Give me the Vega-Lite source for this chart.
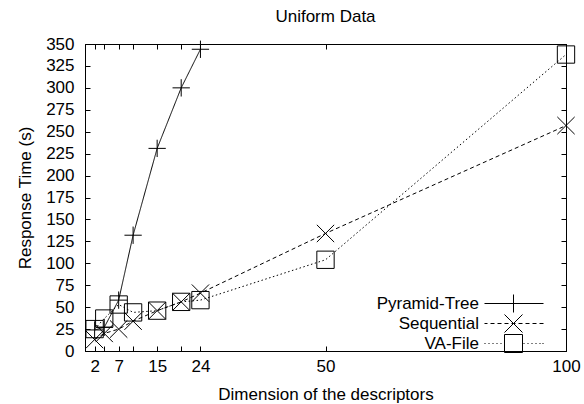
{
  "$schema": "https://vega.github.io/schema/vega-lite/v6.json",
  "width": 481,
  "height": 307,
  "autosize": "none",
  "padding": {"left": 85, "top": 44, "right": 18, "bottom": 53},
  "background": "#ffffff",
  "title": {"text": "Uniform Data", "fontSize": 17, "fontWeight": "normal", "font": "Liberation Sans", "color": "#000000", "offset": 9},
  "config": {
    "view": {"stroke": "#000000", "strokeWidth": 1},
    "font": "Liberation Sans",
    "axis": {"domainColor": "#000000", "tickColor": "#000000", "labelColor": "#000000", "titleColor": "#000000", "labelFont": "Liberation Sans", "titleFont": "Liberation Sans", "labelFontSize": 17, "titleFontSize": 17, "titleFontWeight": "normal", "grid": false, "tickSize": -5, "tickWidth": 1, "domainWidth": 1}
  },
  "data": {"values": [
    {"method": "Pyramid-Tree", "dim": 2, "time": 24},
    {"method": "Pyramid-Tree", "dim": 4, "time": 27},
    {"method": "Pyramid-Tree", "dim": 7, "time": 58},
    {"method": "Pyramid-Tree", "dim": 10, "time": 132},
    {"method": "Pyramid-Tree", "dim": 15, "time": 231},
    {"method": "Pyramid-Tree", "dim": 20, "time": 300},
    {"method": "Pyramid-Tree", "dim": 24, "time": 344},
    {"method": "Sequential", "dim": 2, "time": 13},
    {"method": "Sequential", "dim": 4, "time": 20},
    {"method": "Sequential", "dim": 7, "time": 25},
    {"method": "Sequential", "dim": 10, "time": 34},
    {"method": "Sequential", "dim": 15, "time": 46},
    {"method": "Sequential", "dim": 20, "time": 56},
    {"method": "Sequential", "dim": 24, "time": 66},
    {"method": "Sequential", "dim": 50, "time": 134},
    {"method": "Sequential", "dim": 100, "time": 257},
    {"method": "VA-File", "dim": 2, "time": 25},
    {"method": "VA-File", "dim": 4, "time": 37},
    {"method": "VA-File", "dim": 7, "time": 53},
    {"method": "VA-File", "dim": 10, "time": 44},
    {"method": "VA-File", "dim": 15, "time": 46},
    {"method": "VA-File", "dim": 20, "time": 56},
    {"method": "VA-File", "dim": 24, "time": 58},
    {"method": "VA-File", "dim": 50, "time": 104},
    {"method": "VA-File", "dim": 100, "time": 338}
  ]},
  "layer": [
    {
      "mark": {"type": "line", "color": "#000000", "strokeWidth": 1},
      "encoding": {
        "x": {"field": "dim", "type": "quantitative", "scale": {"domain": [0, 100], "nice": false, "zero": false},
              "axis": {"orient": "bottom", "values": [2, 4, 7, 10, 15, 20, 24, 50, 100], "labelExpr": "datum.value == 4 || datum.value == 10 || datum.value == 20 ? '' : datum.label", "labelPadding": 12, "title": "Dimension of the descriptors", "titlePadding": 12, "labelFlush": false, "labelOverlap": false}},
        "y": {"field": "time", "type": "quantitative", "scale": {"domain": [0, 350], "nice": false},
              "axis": {"orient": "left", "values": [0, 25, 50, 75, 100, 125, 150, 175, 200, 225, 250, 275, 300, 325, 350], "labelPadding": 16, "title": "Response Time (s)", "titlePadding": 11, "labelFlush": false, "labelOverlap": false}},
        "strokeDash": {"field": "method", "type": "nominal",
                       "scale": {"domain": ["Pyramid-Tree", "Sequential", "VA-File"], "range": [[1, 0], [4, 3], [1.5, 2.5]]},
                       "legend": null}
      }
    },
    {
      "mark": {"type": "point", "filled": false, "color": "#000000", "strokeWidth": 1, "size": 300, "opacity": 1},
      "encoding": {
        "x": {"field": "dim", "type": "quantitative",
              "axis": {"orient": "top", "values": [2, 4, 7, 10, 15, 20, 24, 50, 100], "labels": false, "title": null}},
        "y": {"field": "time", "type": "quantitative",
              "axis": {"orient": "right", "values": [0, 25, 50, 75, 100, 125, 150, 175, 200, 225, 250, 275, 300, 325, 350], "labels": false, "title": null}},
        "shape": {"field": "method", "type": "nominal",
                  "scale": {"domain": ["Pyramid-Tree", "Sequential", "VA-File"],
                            "range": ["M-1,0L1,0M0,-1L0,1", "M-1,-1L1,1M-1,1L1,-1", "M-1,-1L1,-1L1,1L-1,1Z"]},
                  "legend": null}
      }
    },
    {
      "transform": [{"filter": "false"}],
      "mark": {"type": "point", "filled": false, "color": "#000000", "strokeWidth": 1, "size": 256, "opacity": 1},
      "encoding": {
        "shape": {"field": "method", "type": "nominal",
                  "scale": {"domain": ["Pyramid-Tree", "Sequential", "VA-File"],
                            "range": [
                              "M-3.625,0L3.75,0M0,-1.125L0,1.125",
                              "M-3.625,0L-3.25,0M-2.875,0L-2.375,0M-2,0L-1.5,0M-1.125,0L-0.625,0M-0.25,0L0.25,0M0.625,0L1.125,0M1.5,0L2,0M2.375,0L2.875,0M3.25,0L3.75,0M-1.125,-1.125L1.125,1.125M-1.125,1.125L1.125,-1.125",
                              "M-3.625,0L-3.5,0M-3.125,0L-3,0M-2.625,0L-2.5,0M-2.125,0L-2,0M-1.625,0L-1.5,0M1.25,0L1.375,0M1.75,0L1.875,0M2.25,0L2.375,0M2.75,0L2.875,0M3.25,0L3.375,0M3.625,0L3.75,0M-1.125,-1.125L1.125,-1.125L1.125,1.125L-1.125,1.125Z"
                            ]},
                  "legend": {
                    "orient": "none", "legendX": 420, "legendY": 251, "title": null,
                    "labelFontSize": 17, "labelFont": "Liberation Sans", "labelColor": "#000000",
                    "labelAlign": "right", "labelOffset": -43, "symbolSize": 256, "rowPadding": -5, "padding": 0,
                    "symbolStrokeColor": "#000000", "symbolStrokeWidth": 1, "symbolFillColor": "transparent", "symbolOpacity": 1
                  }}
      }
    }
  ],
  "resolve": {"axis": {"x": "independent", "y": "independent"}, "scale": {"shape": "independent"}, "legend": {"shape": "independent", "strokeDash": "independent"}}
}
